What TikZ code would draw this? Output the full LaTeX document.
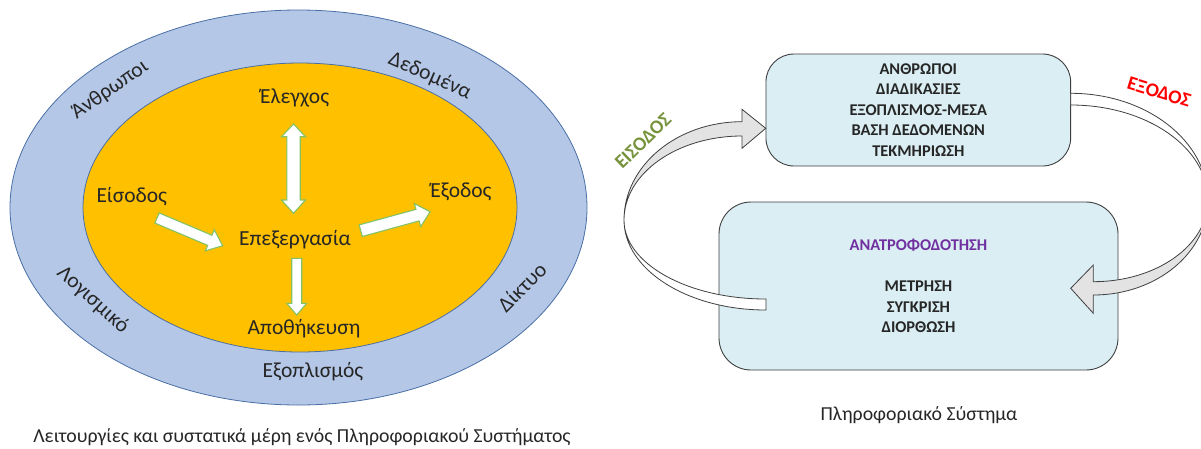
\documentclass[tikz,border=0pt]{standalone}
\usepackage{fontspec}
\setmainfont{Carlito}
\usetikzlibrary{shapes.geometric}

\definecolor{ringblue}{HTML}{B4C7E7}
\definecolor{ringedge}{HTML}{4A6FA5}
\definecolor{coreamber}{HTML}{FFC000}
\definecolor{arrowgreen}{HTML}{84C266}
\definecolor{boxfill}{HTML}{DAEEF3}
\definecolor{boxedge}{HTML}{3F3F3F}
\definecolor{ink}{HTML}{262626}
\definecolor{inputgreen}{HTML}{77933C}
\definecolor{outputred}{HTML}{FF0000}
\definecolor{feedpurple}{HTML}{7030A0}
\definecolor{bandgray}{HTML}{E3E3E3}

\tikzset{
  flowarrow/.style={fill=white, draw=arrowgreen, line width=1.1pt, line join=miter},
  ringlabel/.style={font=\fontsize{21.5}{25}\selectfont, text=ink, inner sep=0pt},
  captiontext/.style={font=\fontsize{19.8}{23}\selectfont, text=ink, inner sep=0pt},
  sysbox/.style={draw=boxedge, fill=boxfill, line width=0.9pt, align=center,
    inner sep=0pt, font=\bfseries\fontsize{16.4}{20.6}\selectfont, text=ink},
  bandwhite/.style={fill=white, draw=boxedge, line width=0.8pt},
  bandshade/.style={fill=bandgray, draw=boxedge, line width=0.8pt},
  flowword/.style={font=\bfseries\fontsize{19.5}{23}\selectfont, inner sep=0pt},
}

% straight block arrow: start, angle, length, shaft half-width, head half-width, head length
\newcommand{\blockarrow}[6]{%
  \begin{scope}[shift={#1}, rotate=#2]
    \draw[flowarrow] (0,-#4) -- ({#3-#6},-#4) -- ({#3-#6},-#5) -- (#3,0)
      -- ({#3-#6},#5) -- ({#3-#6},#4) -- (0,#4) -- cycle;
  \end{scope}}

\begin{document}
\begin{tikzpicture}[x=1pt,y=1pt]
\useasboundingbox (0,0) rectangle (1201,-448);

% ---------- functions and components ----------
\node[ellipse, draw=ringedge, fill=ringblue, line width=0.8pt,
      minimum width=577pt, minimum height=395pt, inner sep=0pt] (outerring) at (298.5,-207.5) {};
\node[ellipse, draw=ringedge, fill=coreamber, line width=0.8pt,
      minimum width=434pt, minimum height=289pt, inner sep=0pt] (core) at (300,-207.5) {};

\node[ringlabel, rotate=35]    (people)   at (110,-90)  {Άνθρωποι};
\node[ringlabel, rotate=-23.6] (data)     at (430,-76)  {Δεδομένα};
\node[ringlabel, rotate=-42]   (software) at (93,-300)  {Λογισμικό};
\node[ringlabel, rotate=45]    (network)  at (522,-287) {Δίκτυο};
\node[ringlabel]               (hardware) at (313,-372) {Εξοπλισμός};

\node[ringlabel] (control)    at (294.6,-98)   {Έλεγχος};
\node[ringlabel] (input)      at (131.8,-196.7){Είσοδος};
\node[ringlabel] (output)     at (461,-191.7)  {Έξοδος};
\node[ringlabel] (processing) at (295,-240)    {Επεξεργασία};
\node[ringlabel] (storage)    at (304,-329)    {Αποθήκευση};

% block arrows
\blockarrow{(157,-218)}{-22.9}{71.3}{5.5}{11.5}{14}
\blockarrow{(360.7,-230.7)}{15.3}{71.9}{6}{12}{13}
\blockarrow{(296.7,-258.3)}{-90}{56.7}{5}{10}{11.7}
\draw[flowarrow] (286.8,-136.7) -- (281.5,-136.7) -- (293.5,-124) -- (305.5,-136.7)
  -- (300.2,-136.7) -- (300.2,-200) -- (305.5,-200) -- (293.5,-213.3)
  -- (281.5,-200) -- (286.8,-200) -- cycle;

\node[captiontext] (leftcaption) at (302,-437)
  {Λειτουργίες και συστατικά μέρη ενός Πληροφοριακού Συστήματος};

% ---------- information system cycle ----------
\node[sysbox, rounded corners=28pt, minimum width=304.7pt, minimum height=112pt]
  (resources) at (918.3,-110)
  {ΑΝΘΡΩΠΟΙ\\ΔΙΑΔΙΚΑΣΙΕΣ\\ΕΞΟΠΛΙΣΜΟΣ-ΜΕΣΑ\\ΒΑΣΗ ΔΕΔΟΜΕΝΩΝ\\ΤΕΚΜΗΡΙΩΣΗ};
\node[sysbox, rounded corners=32pt, minimum width=399pt, minimum height=168pt]
  (feedback) at (918.5,-286)
  {\textcolor{feedpurple}{ΑΝΑΤΡΟΦΟΔΟΤΗΣΗ}\\[20.6pt]ΜΕΤΡΗΣΗ\\ΣΥΓΚΡΙΣΗ\\ΔΙΟΡΘΩΣΗ};

% input band: from feedback back into resources
\draw[bandwhite] (624,-220) arc[start angle=180, end angle=270, x radius=142, y radius=90]
  -- (766,-299) arc[start angle=270, end angle=180, x radius=142, y radius=79] -- cycle;
\draw[bandshade] (742,-121.7) arc[start angle=90, end angle=180, x radius=118, y radius=98.3]
  arc[start angle=180, end angle=90, x radius=118, y radius=84]
  -- (742,-148.3) -- (765.7,-128.3) -- (742,-109.3) -- cycle;

% output band: from resources down into feedback
\draw[bandwhite] (1070.7,-93.3) arc[start angle=90, end angle=0, x radius=137.3, y radius=106.7]
  arc[start angle=0, end angle=90, x radius=137.3, y radius=95] -- cycle;
\draw[bandshade] (1208,-200) arc[start angle=0, end angle=-90, x radius=114.7, y radius=95]
  -- (1093.3,-313.3) -- (1070.7,-288.3) -- (1093.3,-265) -- (1093.3,-281.7)
  arc[start angle=-90, end angle=0, x radius=114.7, y radius=81.7] -- cycle;

\node[flowword, text=inputgreen, rotate=44]  (inlabel)  at (643,-141) {ΕΙΣΟΔΟΣ};
\node[flowword, text=outputred, rotate=-17]  (outlabel) at (1159,-92) {ΕΞΟΔΟΣ};

\node[captiontext] (rightcaption) at (919,-415) {Πληροφοριακό Σύστημα};
\end{tikzpicture}
\end{document}
